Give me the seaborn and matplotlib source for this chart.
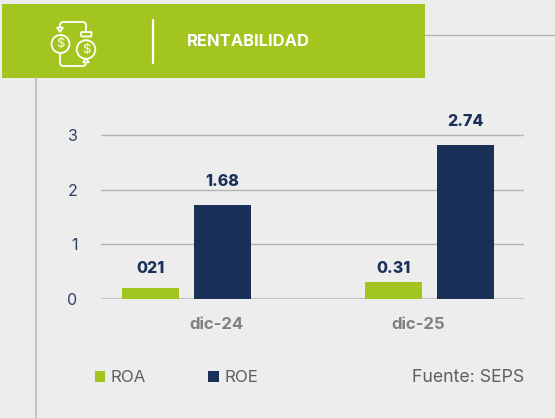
import matplotlib
matplotlib.use("Agg")
import matplotlib.pyplot as plt
from matplotlib.patches import Circle, FancyBboxPatch, Polygon, Rectangle
import pandas as pd
import seaborn as sns

# -----------------------------
# Data
# -----------------------------
periods = ["dic-24", "dic-25"]
roa = [0.20, 0.31]
roe = [1.72, 2.82]
roa_labels = ["021", "0.31"]
roe_labels = ["1.68", "2.74"]
y_ticks = [0, 1, 2, 3]

GREEN = "#A2C61F"
NAVY = "#1B3059"
BG = "#EDEDED"
GRID = "#B4B4B4"
W, H = 555, 418


def px_axes(fig, left, top, right, bottom):
    return fig.add_axes([left / W, 1 - bottom / H, (right - left) / W, (bottom - top) / H])


# -----------------------------
# Header band and icon
# -----------------------------
def draw_header(fig):
    ax = fig.add_axes([0, 0, 1, 1], zorder=0)
    ax.set_xlim(0, W)
    ax.set_ylim(H, 0)
    ax.axis("off")

    ax.plot([36, 36], [78, H], color="#C4C4C4", lw=1.5)
    ax.plot([425, W], [35, 35], color=GRID, lw=1.0)
    ax.add_patch(Rectangle((2, 4), 423, 74, color=GREEN, lw=0))
    ax.plot([153, 153], [20, 63], color="white", lw=1.6)
    ax.text(187, 41.5, "RENTABILIDAD", color="white", fontsize=11.9,
            fontweight="bold", va="center", ha="left")

    # icon
    line = dict(color="white", lw=1.3, solid_capstyle="round", solid_joinstyle="round")
    ax.plot([60, 60, 62, 84, 86, 86], [27, 24, 22, 22, 24, 32], **line)
    ax.plot([60, 60, 62, 84, 86], [53, 64, 66, 66, 64], **line)
    ax.add_patch(Polygon([(57, 27.5), (63, 27.5), (60, 32)], fill=False, ec="white", lw=1.2))
    ax.add_patch(Polygon([(83, 62.5), (89, 62.5), (86, 58.5)], fill=False, ec="white", lw=1.2))
    ax.add_patch(Circle((60.5, 44), 9, fill=False, ec="white", lw=1.3))
    ax.add_patch(Circle((86, 49.5), 9.3, fill=False, ec="white", lw=1.3))
    ax.add_patch(FancyBboxPatch((81, 32), 10.5, 4.5, boxstyle="round,pad=0,rounding_size=1",
                                fc=GREEN, ec="white", lw=1.3))
    ax.text(60.5, 44, "$", color="white", fontsize=9.5, ha="center", va="center", parse_math=False)
    ax.text(86, 49.5, "$", color="white", fontsize=9.5, ha="center", va="center", parse_math=False)
    return ax


# -----------------------------
# Main
# -----------------------------
def main():
    sns.set_theme(style="white")
    plt.rcParams["font.family"] = ["Inter", "DejaVu Sans"]

    df = pd.DataFrame({
        "periodo": periods * 2,
        "serie": ["ROA"] * len(roa) + ["ROE"] * len(roe),
        "valor": roa + roe,
    })

    fig = plt.figure(figsize=(W / 100, H / 100), dpi=100, facecolor=BG)
    draw_header(fig)

    ax = px_axes(fig, 101, 118.6, 524, 299)
    ax.set_facecolor("none")
    ax.set_zorder(1)
    sns.barplot(data=df, x="periodo", y="valor", hue="serie",
                palette={"ROA": GREEN, "ROE": NAVY}, width=0.593, gap=0.208,
                saturation=1, linewidth=0, ax=ax, zorder=3)

    ax.set_xlim(-0.352, 1.389)
    ax.set_ylim(0, 3.3)
    ax.set_yticks(y_ticks)
    ax.set_ylabel("")
    ax.set_xlabel("")
    ax.grid(axis="y", color=GRID, lw=1.0, zorder=0)
    ax.set_axisbelow(True)
    sns.despine(ax=ax, left=True, top=True, right=True, bottom=True)
    ax.axhline(0, color="#C4C4C4", lw=1.6, zorder=1)
    ax.tick_params(axis="y", length=0, pad=17, labelsize=11.5, labelcolor="#2E4268")

    # category labels sit off-centre in the original
    ax.set_xticks([0.125, 0.953], periods)
    ax.tick_params(axis="x", length=0, pad=13, labelsize=12, labelcolor="#808080")
    for t in ax.get_xticklabels():
        t.set_fontweight("bold")

    # value labels
    label_pad = [[9, 4.5], [11.5, 11.5]]
    for cont, labels, pads in zip(ax.containers, [roa_labels, roe_labels], label_pad):
        for bar, text, pad in zip(cont, labels, pads):
            ax.annotate(text, (bar.get_x() + bar.get_width() / 2, bar.get_height()),
                        xytext=(0, pad), textcoords="offset points", ha="center",
                        va="bottom", color=NAVY, fontsize=11.5, fontweight="heavy",
                        annotation_clip=False)

    # legend
    handles, names = ax.get_legend_handles_labels()
    for h in handles:
        h.set_linewidth(0)
    ax.legend(handles, names, loc="center left", bbox_to_anchor=(-6 / 423, -78.5 / 180.4),
              ncol=2, frameon=False, handlelength=0.62, handleheight=0.62,
              handletextpad=0.32, columnspacing=3.7, fontsize=12.1, borderpad=0,
              borderaxespad=0, labelcolor="#5F5F5F")

    fig.text(524 / W, 1 - 378 / H, "Fuente: SEPS", ha="right", va="center",
             fontsize=12.8, color="#5F5F5F")

    fig.savefig("out.png", dpi=100, facecolor=BG)


if __name__ == "__main__":
    main()
